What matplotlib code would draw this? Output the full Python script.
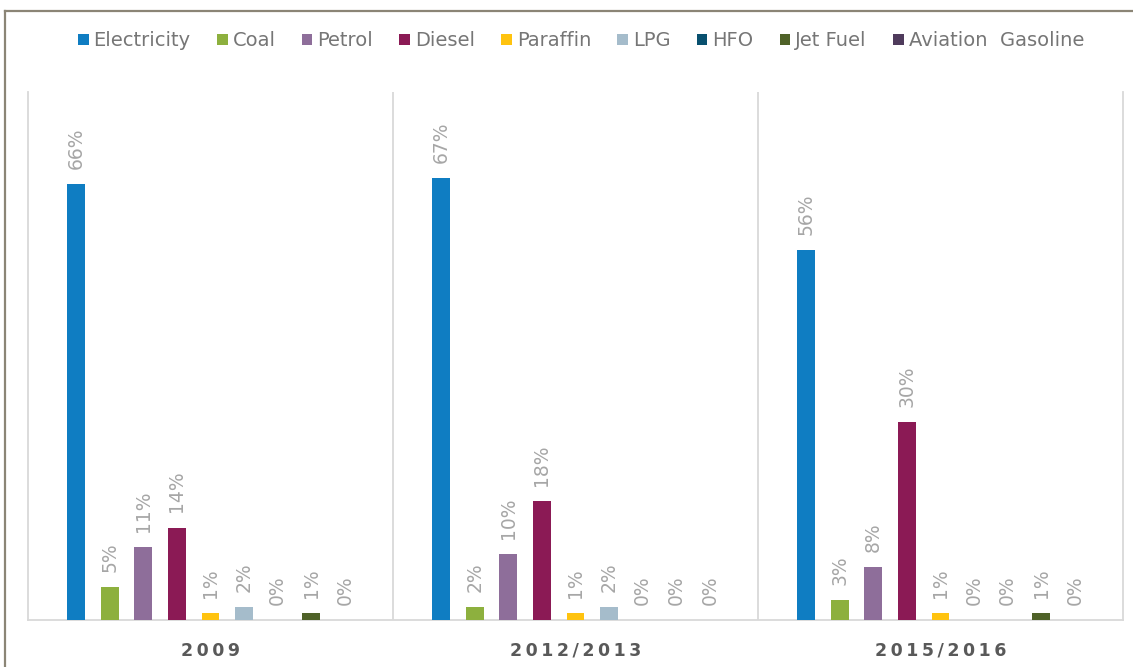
import matplotlib
matplotlib.use("Agg")
import matplotlib.pyplot as plt
import numpy as np
from matplotlib.patches import Patch
from matplotlib.lines import Line2D

periods = ["2009", "2012/2013", "2015/2016"]
fuels = ["Electricity", "Coal", "Petrol", "Diesel", "Paraffin", "LPG",
         "HFO", "Jet Fuel", "Aviation  Gasoline"]
colors = ["#0F7DC2", "#8DB03E", "#8E6E9A", "#8B1A55", "#FFC30F", "#A5BCCB",
          "#08506F", "#4F6228", "#4F3B5C"]

# share (%) of each fuel per period
electricity = [66, 67, 56]
coal = [5, 2, 3]
petrol = [11, 10, 8]
diesel = [14, 18, 30]
paraffin = [1, 1, 1]
lpg = [2, 2, 0]
hfo = [0, 0, 0]
jet_fuel = [1, 0, 1]
aviation_gasoline = [0, 0, 0]

series = [electricity, coal, petrol, diesel, paraffin, lpg, hfo,
          jet_fuel, aviation_gasoline]

plt.rcParams['font.family'] = ['DejaVu Sans']

W, H = 1133, 667
fig = plt.figure(figsize=(W / 100, H / 100), dpi=100)
ax = fig.add_axes([28 / W, 1 - 620 / H, (1123 - 28) / W, (620 - 92) / H])

grid_col = "#D9D9D9"
step = 0.092
width = 0.049
x = np.arange(len(periods))
n = len(series)
for i, (vals, col) in enumerate(zip(series, colors)):
    pos = x + (i - (n - 1) / 2) * step
    bars = ax.bar(pos, vals, width=width, color=col, zorder=3)
    for b, v in zip(bars, vals):
        ax.annotate(f"{v}%", (b.get_x() + b.get_width() / 2, v),
                    xytext=(0, 11), textcoords="offset points",
                    rotation=90, ha="center", va="bottom",
                    fontsize=13.5, color="#A6A6A6")

ax.set_xlim(-0.5, 2.5)
ax.set_ylim(0, 80)
for sep in (0.5, 1.5):
    ax.axvline(sep, color=grid_col, lw=1.3, zorder=1)
for side in ("left", "right", "bottom"):
    ax.spines[side].set_color(grid_col)
    ax.spines[side].set_linewidth(1.3)
ax.spines["top"].set_visible(False)
ax.set_xticks([])
ax.set_yticks([])

for xi, p in zip(x, periods):
    ax.text(xi, -0.058, "\u2009".join(p), transform=ax.get_xaxis_transform(),
            ha="center", va="center", fontsize=12.5, fontweight="bold",
            color="#595959")

handles = [Patch(facecolor=c, edgecolor="none") for c in colors]
fig.legend(handles, fuels, loc="center", bbox_to_anchor=(581 / W, 1 - 41 / H),
           ncol=9, frameon=False, fontsize=14, labelcolor="#767676",
           handlelength=0.55, handleheight=0.55, handletextpad=0.25,
           columnspacing=1.35)

# outer frame, top and left edges
frame_col = "#8B8576"
fig.add_artist(Line2D([4.5 / W, 4.5 / W], [0, 1 - 10.5 / H],
                      transform=fig.transFigure, color=frame_col, lw=1.6))
fig.add_artist(Line2D([4.5 / W, 1], [1 - 10.5 / H, 1 - 10.5 / H],
                      transform=fig.transFigure, color=frame_col, lw=1.6))

fig.savefig("out.png", dpi=100, facecolor="white")
